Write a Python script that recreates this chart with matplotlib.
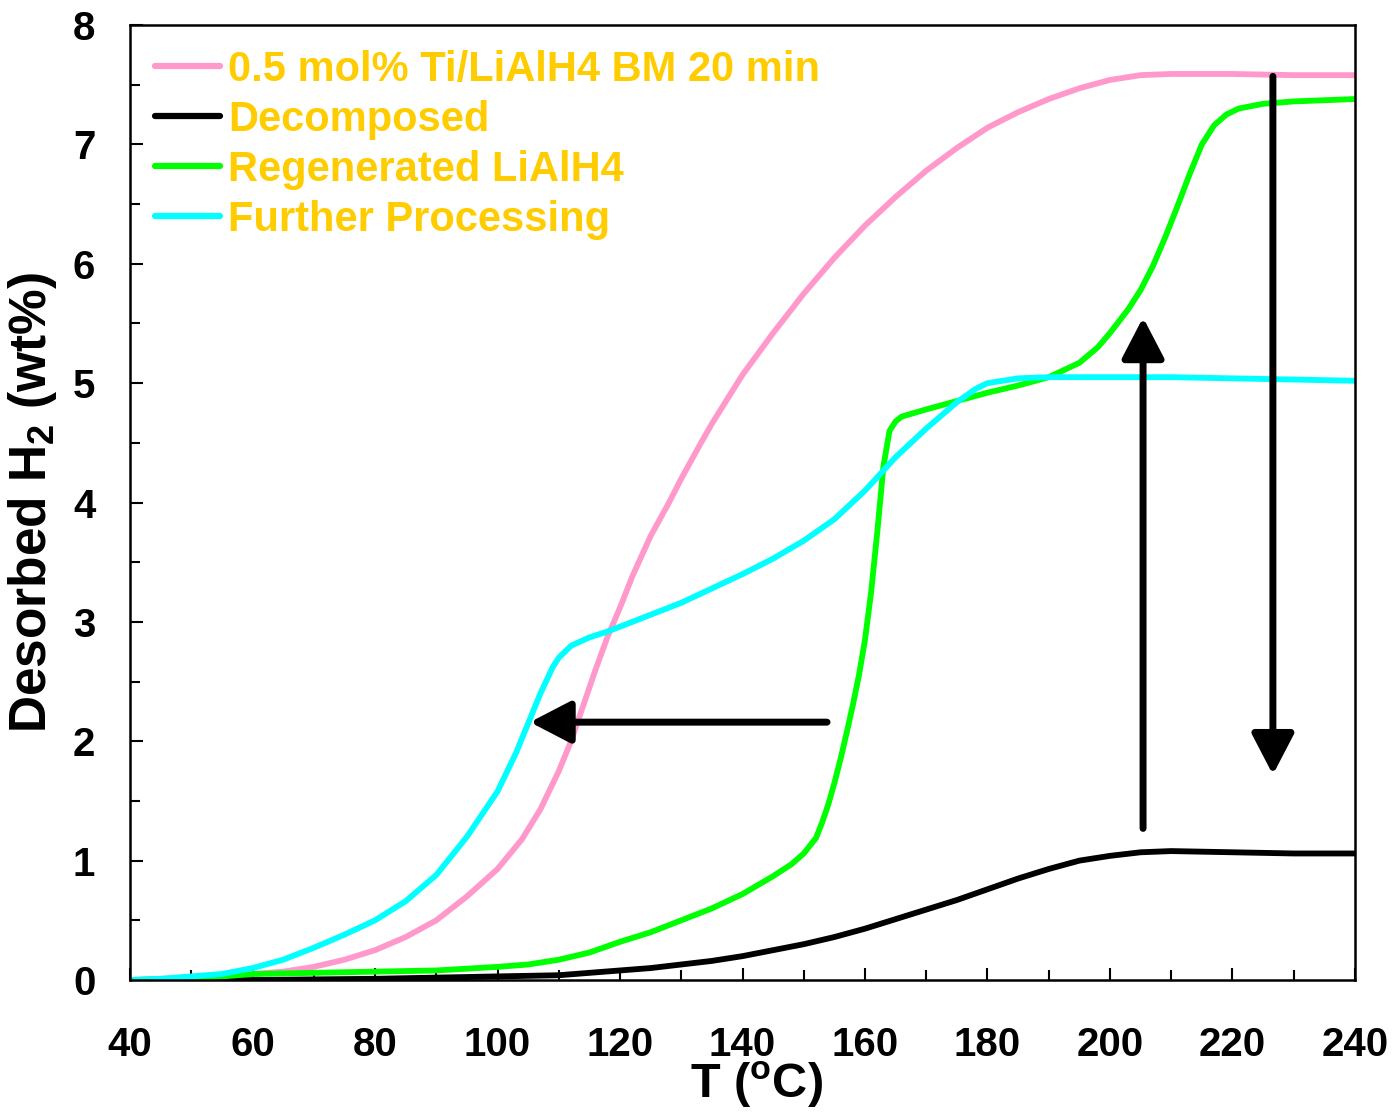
import matplotlib
matplotlib.use("Agg")
import matplotlib.pyplot as plt
from matplotlib.ticker import MultipleLocator
from matplotlib import font_manager

plt.rcParams['font.family'] = ['Liberation Sans', 'DejaVu Sans']
plt.rcParams['font.weight'] = 'bold'
plt.rcParams['mathtext.fontset'] = 'custom'
plt.rcParams['mathtext.rm'] = 'Liberation Sans:bold'
plt.rcParams['mathtext.bf'] = 'Liberation Sans:bold'
plt.rcParams['mathtext.it'] = 'Liberation Sans:bold'
plt.rcParams['mathtext.default'] = 'bf'

_names = {f.name for f in font_manager.fontManager.ttflist}
if 'Liberation Sans Narrow' in _names:
    TICK_FAMILY, TICK_SIZE = ['Liberation Sans Narrow', 'DejaVu Sans'], 36
else:
    TICK_FAMILY, TICK_SIZE = ['Liberation Sans', 'DejaVu Sans'], 29

# ---- data ----
T_pink = [40, 45, 50, 55, 60, 65, 70, 75, 80, 85, 90, 95, 100, 104, 107, 110, 112, 114, 116,
          118, 120, 122, 125, 128, 130, 133, 135, 140, 145, 150, 155, 160, 165, 170, 175, 180,
          185, 190, 195, 200, 205, 210, 220, 230, 240]
w_pink = [0, 0.01, 0.02, 0.03, 0.05, 0.07, 0.11, 0.17, 0.25, 0.36, 0.5, 0.7, 0.93, 1.18, 1.43,
          1.75, 2.0, 2.3, 2.6, 2.88, 3.12, 3.38, 3.72, 4.0, 4.2, 4.48, 4.66, 5.07, 5.42, 5.75,
          6.05, 6.32, 6.56, 6.78, 6.97, 7.14, 7.27, 7.38, 7.47, 7.54, 7.58, 7.59, 7.59, 7.58, 7.58]

T_black = [40, 60, 80, 90, 100, 110, 115, 120, 125, 130, 135, 140, 145, 150, 155, 160, 165,
           170, 175, 180, 185, 190, 195, 200, 205, 210, 220, 230, 240]
w_black = [0, 0.0, 0.01, 0.02, 0.03, 0.04, 0.06, 0.08, 0.1, 0.13, 0.16, 0.2, 0.25, 0.3, 0.36,
           0.43, 0.51, 0.59, 0.67, 0.76, 0.85, 0.93, 1.0, 1.04, 1.07, 1.08, 1.07, 1.06, 1.06]

T_green = [40, 50, 55, 60, 70, 80, 90, 100, 105, 110, 115, 120, 125, 130, 135, 140, 145, 148,
           150, 152, 153, 154, 155, 156, 157, 158, 159, 160, 161, 162, 163, 164, 165, 166, 170,
           175, 180, 185, 190, 195, 198, 200, 203, 205, 207, 209, 211, 213, 215, 217, 219, 221,
           225, 230, 235, 240]
w_green = [0, 0.01, 0.03, 0.05, 0.06, 0.07, 0.08, 0.11, 0.13, 0.17, 0.23, 0.32, 0.4, 0.5, 0.6,
           0.72, 0.87, 0.97, 1.06, 1.19, 1.32, 1.47, 1.65, 1.85, 2.07, 2.3, 2.55, 2.85, 3.25,
           3.75, 4.3, 4.6, 4.68, 4.72, 4.78, 4.85, 4.92, 4.98, 5.05, 5.17, 5.3, 5.42, 5.62, 5.78,
           5.98, 6.22, 6.48, 6.75, 7.0, 7.16, 7.25, 7.3, 7.34, 7.36, 7.37, 7.38]

T_cyan = [40, 45, 50, 55, 60, 65, 70, 75, 80, 85, 90, 95, 100, 103, 105, 107, 109, 110, 112,
          115, 118, 120, 125, 130, 135, 140, 145, 150, 155, 160, 165, 170, 175, 178, 180, 185,
          190, 200, 210, 220, 230, 240]
w_cyan = [0, 0.01, 0.03, 0.05, 0.1, 0.17, 0.27, 0.38, 0.5, 0.66, 0.88, 1.2, 1.58, 1.9, 2.15,
          2.4, 2.62, 2.7, 2.8, 2.87, 2.92, 2.96, 3.06, 3.16, 3.28, 3.4, 3.53, 3.68, 3.86, 4.1,
          4.38, 4.62, 4.84, 4.95, 5.0, 5.04, 5.05, 5.05, 5.05, 5.04, 5.03, 5.02]

labels = ["0.5 mol% Ti/LiAlH4 BM 20 min", "Decomposed", "Regenerated LiAlH4",
          "Further Processing"]
colors = ["#FF99CC", "#000000", "#00FF00", "#00FFFF"]

# arrows: (start, end) in data coordinates
arrows = [((153.8, 2.16), (105.3, 2.16)),
          ((205.4, 1.27), (205.4, 5.55)),
          ((226.6, 7.57), (226.6, 1.72))]

fig = plt.figure(figsize=(13.94, 11.12), dpi=100)
ax = fig.add_axes([0.0933, 0.1187, 0.972 - 0.0933, 0.9775 - 0.1187])

series = [(T_pink, w_pink), (T_black, w_black), (T_green, w_green), (T_cyan, w_cyan)]
for (T, w), c, lab in zip(series, colors, labels):
    ax.plot(T, w, color=c, lw=4.2, label=lab, solid_capstyle='round', solid_joinstyle='round')

for (x0, y0), (x1, y1) in arrows:
    ax.annotate("", xy=(x1, y1), xytext=(x0, y0),
                arrowprops=dict(arrowstyle="-|>,head_length=1.25,head_width=0.65",
                                mutation_scale=20, lw=5, color='black',
                                shrinkA=0, shrinkB=0), zorder=5)

ax.set_xlim(40, 240)
ax.set_ylim(0, 8)
ax.xaxis.set_major_locator(MultipleLocator(20))
ax.xaxis.set_minor_locator(MultipleLocator(10))
ax.yaxis.set_major_locator(MultipleLocator(1))
ax.yaxis.set_minor_locator(MultipleLocator(0.5))
ax.tick_params(which='both', direction='in', width=1.5, top=False, right=False)
ax.tick_params(which='major', length=9)
ax.tick_params(which='minor', length=7.5)
ax.tick_params(axis='x', which='major', pad=33)
ax.tick_params(axis='y', which='major', pad=25)
for lab in ax.get_xticklabels() + ax.get_yticklabels():
    lab.set_fontweight('bold')
    lab.set_family(TICK_FAMILY)
    lab.set_fontsize(TICK_SIZE)
for s in ax.spines.values():
    s.set_linewidth(1.8)

ax.set_xlabel(r"T ($^\mathrm{o}$C)", fontsize=35, fontweight='bold')
ax.xaxis.set_label_coords(0.511, -0.083)
ax.xaxis.label.set_va('top')
ax.set_ylabel(r"Desorbed H$_\mathrm{2}$ (wt%)", fontsize=37, fontweight='bold')
ax.yaxis.set_label_coords(-0.058, 0.5)
ax.yaxis.label.set_va('bottom')

leg = ax.legend(loc='upper left', frameon=False, fontsize=30, handlelength=1.55,
                handletextpad=0.2, labelspacing=0.24, borderaxespad=0.2,
                bbox_to_anchor=(0.0, 1.0))
for t in leg.get_texts():
    t.set_color("#FFCC00")
    t.set_fontweight('bold')
for h in leg.get_lines():
    h.set_linewidth(4.5)
    h.set_solid_capstyle('round')

fig.savefig("out.png", dpi=100)
